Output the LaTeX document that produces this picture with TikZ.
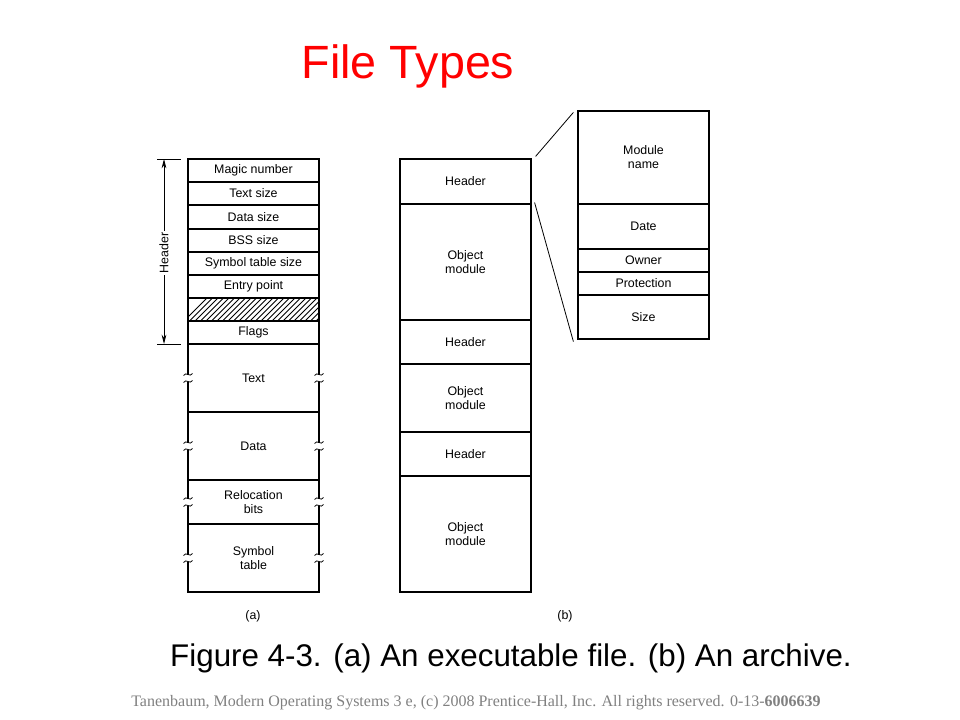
\documentclass[tikz,border=0pt]{standalone}
\usepackage{fontspec}
\setmainfont{Liberation Serif}
\newfontfamily\arialf{Liberation Sans}
\usetikzlibrary{arrows.meta}
\definecolor{titlered}{RGB}{255,0,0}
\definecolor{footgray}{RGB}{128,128,128}
\tikzset{
  cell/.style={draw, line width=0.9pt, inner sep=0pt, align=center, font=\arialf\fontsize{9.3}{10.5}\selectfont},
  thinline/.style={line width=0.6pt},
  brk/.style={line width=0.6pt}
}
\newcommand{\mkcell}[6]{\node[cell, minimum width={(#4-#2)*0.75pt}, minimum height={(#5-#3)*0.75pt}] (#1) at ({(#2+#4)/2},{(#3+#5)/2}) {#6};}
\newcommand{\brkmark}[2]{%
  \fill[white] (#1-5,#2-3.5) rectangle (#1+5,#2+3.5);
  \draw[brk] (#1-4.5,#2-2.5) .. controls (#1-2,#2-7) and (#1+2,#2) .. (#1+4.5,#2-4.5);
  \draw[brk] (#1-4.5,#2+4.5) .. controls (#1-2,#2) and (#1+2,#2+7) .. (#1+4.5,#2+2.5);}
\begin{document}
\begin{tikzpicture}[x=0.75pt,y=-0.75pt]
\useasboundingbox (0,0) rectangle (960,720);
% title
\node[font=\arialf\fontsize{35}{40}\selectfont, text=titlered] (title) at (408,66) {File Types};
% (a) executable
\mkcell{magic}{188}{159}{319}{182}{Magic number}
\mkcell{tsize}{188}{182}{319}{205}{Text size}
\mkcell{dsize}{188}{205}{319}{229}{Data size}
\mkcell{bss}{188}{229}{319}{252}{BSS size}
\mkcell{symsize}{188}{252}{319}{275}{Symbol table size}
\mkcell{entry}{188}{275}{319}{298}{Entry point}
\mkcell{hatch}{188}{298}{319}{321}{}
\begin{scope}
\clip (188,298) rectangle (319,321);
\foreach \i in {0,...,30}{
  \draw[line width=0.55pt] (180+\i*5.5,325) -- (180+\i*5.5+30,295);
}
\end{scope}
\draw[line width=0.9pt] (188,298) rectangle (319,321);
\mkcell{flags}{188}{321}{319}{344}{Flags}
\mkcell{text}{188}{344}{319}{412}{Text}
\mkcell{data}{188}{412}{319}{480}{Data}
\mkcell{reloc}{188}{480}{319}{524}{Relocation\\bits}
\mkcell{symtab}{188}{524}{319}{592}{Symbol\\table}
\foreach \y in {378,446,502,558}{
  \brkmark{188}{\y}
  \brkmark{319}{\y}
}
% header dimension
\coordinate (htop) at (164,159);
\coordinate (hbot) at (164,344);
\coordinate (tickTa) at (157,159);
\coordinate (tickTb) at (181,159);
\coordinate (tickBa) at (157,344);
\coordinate (tickBb) at (181,344);
\draw[thinline] (tickTa) -- (tickTb);
\draw[thinline] (tickBa) -- (tickBb);
\draw[thinline, {Stealth[length=7pt,width=3.5pt]}-{Stealth[length=7pt,width=3.5pt]}] (htop) -- (hbot);
\node[fill=white, rotate=90, inner sep=1.5pt, font=\arialf\fontsize{9.3}{10.5}\selectfont] (hdr) at (164,253) {Header};
\node[font=\arialf\fontsize{9.3}{10.5}\selectfont] (capa) at (253,616) {(a)};
% (b) archive
\mkcell{h1}{400}{159}{531}{204}{Header}
\mkcell{o1}{400}{204}{531}{320}{Object\\module}
\mkcell{h2}{400}{320}{531}{364}{Header}
\mkcell{o2}{400}{364}{531}{432}{Object\\module}
\mkcell{h3}{400}{432}{531}{476}{Header}
\mkcell{o3}{400}{476}{531}{592}{Object\\module}
\node[font=\arialf\fontsize{9.3}{10.5}\selectfont] (capb) at (565,616) {(b)};
% detail
\mkcell{mname}{578}{111}{709}{204}{Module\\name}
\mkcell{date}{578}{204}{709}{249}{Date}
\mkcell{owner}{578}{249}{709}{272}{Owner}
\mkcell{prot}{578}{272}{709}{295}{Protection}
\mkcell{size}{578}{295}{709}{339}{Size}
\draw[thinline] ([shift={(4,-2)}]h1.north east) -- ([shift={(-4,2)}]mname.north west);
\draw[thinline] ([shift={(3,-2)}]h1.south east) -- ([shift={(-4,2)}]size.south west);
% caption
\node[font=\arialf\fontsize{23.5}{28}\selectfont] (caption) at (511,658) {Figure 4-3. (a) An executable file. (b) An archive.};
\node[font=\fontsize{12}{14}\selectfont, text=footgray] (footer) at (476,703) {Tanenbaum, Modern Operating Systems 3 e, (c) 2008 Prentice-Hall, Inc. All rights reserved. 0-13-\textbf{6006639}};
\end{tikzpicture}
\end{document}
